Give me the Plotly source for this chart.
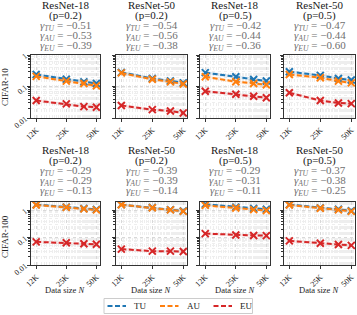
import plotly.graph_objects as go

# ---------------- data ----------------
data_sizes = [12500, 25000, 37500, 50000]
x_tick_vals = [12500, 25000, 50000]
x_tick_text = ["12K", "25K", "50K"]
y_tick_vals = [0.01, 0.1, 1]
y_tick_text = ["0.01", "0.1", "1"]

models = ["ResNet-18", "ResNet-50", "ResNet-18", "ResNet-50"]
dropouts = ["0.2", "0.2", "0.5", "0.5"]
datasets = ["CIFAR-10", "CIFAR-100"]
series_names = ["TU", "AU", "EU"]

# CIFAR-10 (top row)
c10_tu = [[0.24, 0.17, 0.14, 0.125], [0.28, 0.18, 0.15, 0.13],
          [0.275, 0.205, 0.167, 0.15], [0.295, 0.225, 0.18, 0.16]]
c10_au = [[0.21, 0.148, 0.125, 0.105], [0.27, 0.17, 0.14, 0.12],
          [0.205, 0.142, 0.125, 0.114], [0.24, 0.19, 0.148, 0.13]]
c10_eu = [[0.036, 0.028, 0.023, 0.022], [0.025, 0.0184, 0.0167, 0.0145],
          [0.071, 0.057, 0.049, 0.044], [0.063, 0.036, 0.030, 0.0286]]
c10_gamma = [[-0.51, -0.53, -0.39], [-0.54, -0.56, -0.38],
             [-0.42, -0.44, -0.36], [-0.47, -0.44, -0.60]]

# CIFAR-100 (bottom row)
c100_tu = [[1.6, 1.3, 1.15, 1.07], [1.6, 1.25, 1.05, 0.93],
           [1.65, 1.3, 1.15, 1.08], [1.6, 1.22, 1.08, 0.96]]
c100_au = [[1.55, 1.27, 1.12, 1.03], [1.58, 1.23, 1.03, 0.91],
           [1.5, 1.2, 1.05, 0.97], [1.55, 1.18, 1.03, 0.91]]
c100_eu = [[0.07, 0.065, 0.06, 0.057], [0.038, 0.032, 0.032, 0.031],
           [0.14, 0.124, 0.12, 0.118], [0.076, 0.062, 0.056, 0.052]]
c100_gamma = [[-0.29, -0.29, -0.13], [-0.39, -0.39, -0.14],
              [-0.29, -0.31, -0.11], [-0.37, -0.38, -0.25]]

# ---------------- style ----------------
W, H = 357, 315
colors = {"TU": "#1f77b4", "AU": "#ff7f0e", "EU": "#d62728"}
band_colors = {"TU": "rgba(31,119,180,0.13)", "AU": "rgba(255,127,14,0.13)",
               "EU": "rgba(214,39,40,0.10)"}
BAND_REL = 0.12  # visual width of the shaded band (relative)
SERIF = "Liberation Serif, Times New Roman, serif"
DASH = "5px,2.5px"

col_px = [(31, 100), (116, 187), (200, 270), (284, 355)]
row_px = [(55, 118), (202, 265)]
y_ranges = [[-2, 0], [-2, 0.3]]
x_range = [4.045, 4.735]
title_centers = [[5, 15.3, 25.7, 36, 46], [149.5, 160, 170.5, 181, 191.5]]
ylabel_centers = [87.5, 236.5]
xlabel_y = 290

rows = [(c10_tu, c10_au, c10_eu, c10_gamma), (c100_tu, c100_au, c100_eu, c100_gamma)]


def px(xp, yp):
    return xp / W, 1 - yp / H


fig = go.Figure()
layout_axes = {}
annotations = []
shapes = []

k = 0
for r, (tu, au, eu, gam) in enumerate(rows):
    for c in range(4):
        k += 1
        xa = "x" if k == 1 else f"x{k}"
        ya = "y" if k == 1 else f"y{k}"
        vals = {"TU": tu[c], "AU": au[c], "EU": eu[c]}
        for s in series_names:
            v = vals[s]
            upper = [q * (1 + BAND_REL) for q in v]
            lower = [q * (1 - BAND_REL) for q in v]
            fig.add_trace(go.Scatter(x=data_sizes, y=upper, mode="lines",
                                     line=dict(width=0), xaxis=xa, yaxis=ya,
                                     showlegend=False, hoverinfo="skip"))
            fig.add_trace(go.Scatter(x=data_sizes, y=lower, mode="lines",
                                     line=dict(width=0), fill="tonexty",
                                     fillcolor=band_colors[s], xaxis=xa, yaxis=ya,
                                     showlegend=False, hoverinfo="skip"))
        for s in series_names:
            v = vals[s]
            fig.add_trace(go.Scatter(x=data_sizes, y=v, mode="lines", name=s,
                                     line=dict(color=colors[s], width=2, dash=DASH),
                                     xaxis=xa, yaxis=ya, showlegend=False))
            fig.add_trace(go.Scatter(x=data_sizes, y=v, mode="markers",
                                     marker=dict(symbol="x-thin", size=7,
                                                 line=dict(color=colors[s], width=2)),
                                     xaxis=xa, yaxis=ya, showlegend=False))

        x0, x1 = col_px[c]
        y0, y1 = row_px[r]
        axis_common = dict(showline=True, linecolor="#333", linewidth=1.3, mirror=True,
                           ticks="outside", ticklen=3, tickcolor="#333",
                           showgrid=True, gridcolor="#d8d8d8", gridwidth=0.6,
                           griddash="dot", zeroline=False, automargin=False,
                           tickfont=dict(family=SERIF, size=8, color="#222"))
        layout_axes["xaxis" if k == 1 else f"xaxis{k}"] = dict(
            axis_common, type="log", range=x_range,
            domain=[x0 / W, x1 / W], anchor=ya,
            tickmode="array", tickvals=x_tick_vals, ticktext=x_tick_text,
            tickangle=-45,
            minor=dict(showgrid=True, gridcolor="#eeeeee", gridwidth=0.5, griddash="dot"))
        layout_axes["yaxis" if k == 1 else f"yaxis{k}"] = dict(
            axis_common, type="log", range=y_ranges[r],
            domain=[1 - y1 / H, 1 - y0 / H], anchor=xa,
            tickmode="array", tickvals=y_tick_vals, ticktext=y_tick_text,
            showticklabels=(c == 0), tickangle=-40,
            minor=dict(ticks="outside", ticklen=2, tickcolor="#333", dtick="D1",
                       showgrid=True, gridcolor="#eeeeee", gridwidth=0.5, griddash="dot"))

        cx = (x0 + x1) / 2 / W
        lines = [models[c], f"(p={dropouts[c]})"] + [
            f"<i>γ</i><sub><i>{s}</i></sub> = −{abs(g):.2f}"
            for s, g in zip(series_names, gam[c])]
        for i, txt in enumerate(lines):
            annotations.append(dict(
                text=txt, x=cx, y=1 - title_centers[r][i] / H,
                xref="paper", yref="paper", xanchor="center", yanchor="middle",
                showarrow=False,
                font=dict(family=SERIF, size=11, color="#1a1a1a" if i < 2 else "#707070")))
        if r == 1:
            annotations.append(dict(
                text="Data size <i>N</i>", x=cx, y=1 - xlabel_y / H,
                xref="paper", yref="paper", xanchor="center", yanchor="middle",
                showarrow=False, font=dict(family=SERIF, size=8.5, color="#222")))
    annotations.append(dict(
        text=datasets[r], x=4.5 / W, y=1 - ylabel_centers[r] / H, textangle=-90,
        xref="paper", yref="paper", xanchor="center", yanchor="middle",
        showarrow=False, font=dict(family=SERIF, size=9, color="#222")))

# ---------- legend drawn as shapes + text ----------
lx0, ly0 = px(104, 298.5)
lx1, ly1 = px(252.5, 313.5)
shapes.append(dict(type="rect", xref="paper", yref="paper", x0=lx0, x1=lx1, y0=ly1, y1=ly0,
                   line=dict(color="#cccccc", width=1), fillcolor="white", layer="above"))
legend_line_x = [(107.5, 126), (160, 178.5), (213.5, 232)]
legend_text_x = [131.5, 184.5, 238]
legend_y = 306
for s, (a, b), tx in zip(series_names, legend_line_x, legend_text_x):
    xa_, yy = px(a, legend_y)
    xb_, _ = px(b, legend_y)
    shapes.append(dict(type="line", xref="paper", yref="paper", x0=xa_, x1=xb_, y0=yy, y1=yy,
                       line=dict(color=colors[s], width=2, dash=DASH), layer="above"))
    annotations.append(dict(text=s, x=tx / W, y=yy, xref="paper", yref="paper",
                            xanchor="left", yanchor="middle", showarrow=False,
                            font=dict(family=SERIF, size=9, color="#222")))

fig.update_layout(
    width=W, height=H, margin=dict(l=0, r=0, t=0, b=0),
    paper_bgcolor="white", plot_bgcolor="white",
    showlegend=False,
    annotations=annotations, shapes=shapes,
    **layout_axes)

fig.write_html("out.html", config={"displayModeBar": False},
               post_script="document.body.style.margin='0';"
                           "document.body.style.overflow='hidden';")
